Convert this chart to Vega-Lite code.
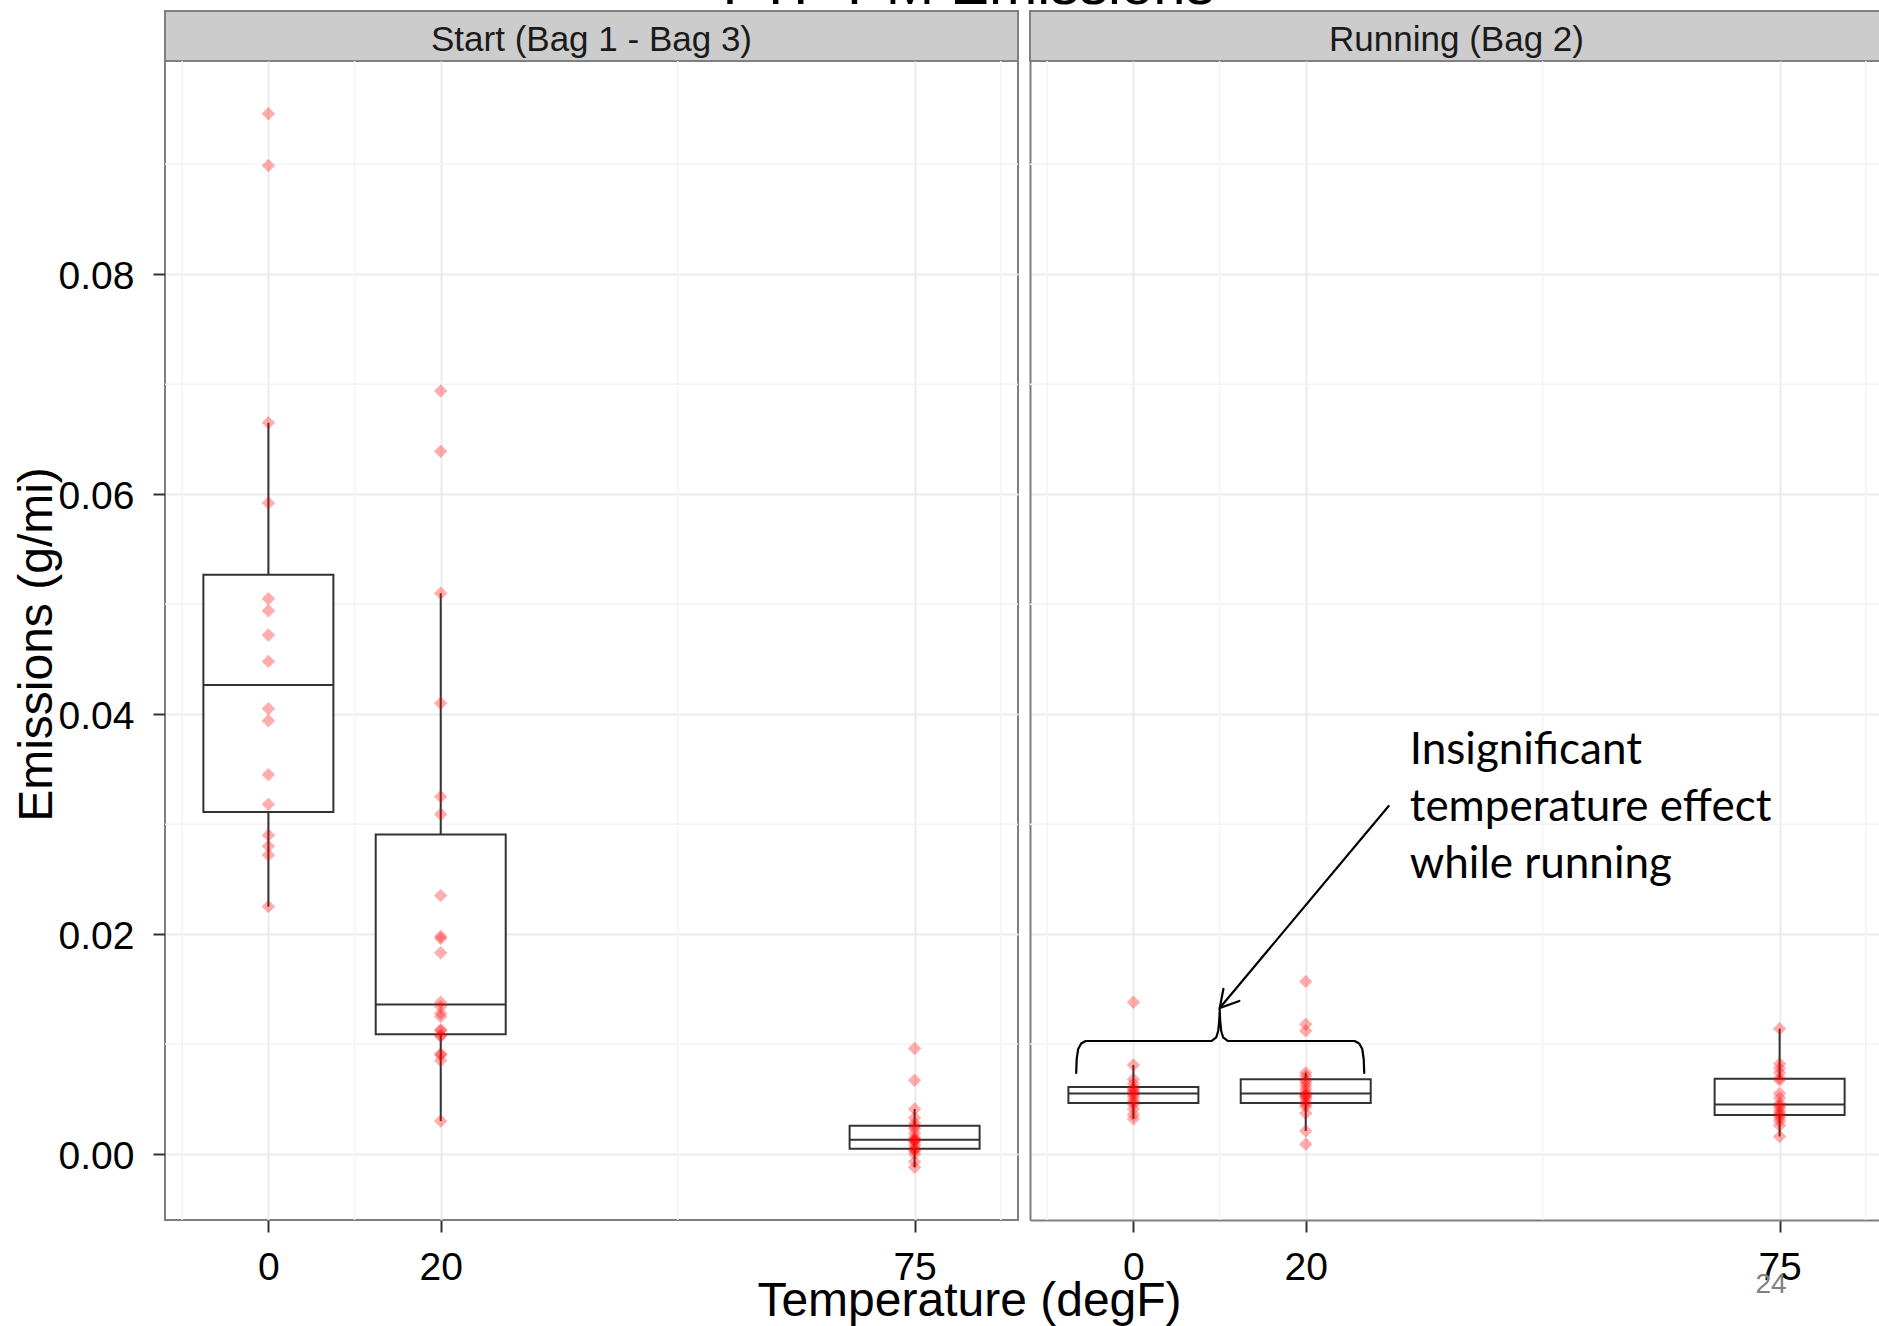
{
  "$schema": "https://vega.github.io/schema/vega-lite/v6.json",
  "background": "white",
  "padding": {"left": 12, "top": -42, "right": 0, "bottom": 0},
  "title": {"text": "FTP PM Emissions", "fontSize": 58, "fontWeight": "normal", "font": "Liberation Sans", "color": "#000000", "baseline": "alphabetic", "offset": -52, "anchor": "middle", "frame": "bounds", "dx": 22},
  "datasets": {
    "pm": [
      {"phase": "Start", "T": 0, "E": 0.0946}, {"phase": "Start", "T": 0, "E": 0.0899}, {"phase": "Start", "T": 0, "E": 0.0665}, {"phase": "Start", "T": 0, "E": 0.0592},
      {"phase": "Start", "T": 0, "E": 0.0505}, {"phase": "Start", "T": 0, "E": 0.0494}, {"phase": "Start", "T": 0, "E": 0.0472}, {"phase": "Start", "T": 0, "E": 0.0448},
      {"phase": "Start", "T": 0, "E": 0.0405}, {"phase": "Start", "T": 0, "E": 0.0394}, {"phase": "Start", "T": 0, "E": 0.0345}, {"phase": "Start", "T": 0, "E": 0.0318},
      {"phase": "Start", "T": 0, "E": 0.0290}, {"phase": "Start", "T": 0, "E": 0.0280}, {"phase": "Start", "T": 0, "E": 0.0272}, {"phase": "Start", "T": 0, "E": 0.0225},
      {"phase": "Start", "T": 20, "E": 0.0694}, {"phase": "Start", "T": 20, "E": 0.0639}, {"phase": "Start", "T": 20, "E": 0.0510}, {"phase": "Start", "T": 20, "E": 0.0410},
      {"phase": "Start", "T": 20, "E": 0.0325}, {"phase": "Start", "T": 20, "E": 0.0309}, {"phase": "Start", "T": 20, "E": 0.0235}, {"phase": "Start", "T": 20, "E": 0.0198},
      {"phase": "Start", "T": 20, "E": 0.0196}, {"phase": "Start", "T": 20, "E": 0.0183}, {"phase": "Start", "T": 20, "E": 0.0138}, {"phase": "Start", "T": 20, "E": 0.0134},
      {"phase": "Start", "T": 20, "E": 0.0128}, {"phase": "Start", "T": 20, "E": 0.0125}, {"phase": "Start", "T": 20, "E": 0.0113}, {"phase": "Start", "T": 20, "E": 0.0112},
      {"phase": "Start", "T": 20, "E": 0.0108}, {"phase": "Start", "T": 20, "E": 0.0107}, {"phase": "Start", "T": 20, "E": 0.0091}, {"phase": "Start", "T": 20, "E": 0.0090},
      {"phase": "Start", "T": 20, "E": 0.0085}, {"phase": "Start", "T": 20, "E": 0.0030},
      {"phase": "Start", "T": 75, "E": 0.0096}, {"phase": "Start", "T": 75, "E": 0.0067}, {"phase": "Start", "T": 75, "E": 0.0041}, {"phase": "Start", "T": 75, "E": 0.0033},
      {"phase": "Start", "T": 75, "E": 0.0028}, {"phase": "Start", "T": 75, "E": 0.0025}, {"phase": "Start", "T": 75, "E": 0.0023}, {"phase": "Start", "T": 75, "E": 0.0019},
      {"phase": "Start", "T": 75, "E": 0.0015}, {"phase": "Start", "T": 75, "E": 0.0013}, {"phase": "Start", "T": 75, "E": 0.0013}, {"phase": "Start", "T": 75, "E": 0.0012},
      {"phase": "Start", "T": 75, "E": 0.0011}, {"phase": "Start", "T": 75, "E": 0.0008}, {"phase": "Start", "T": 75, "E": 0.0005}, {"phase": "Start", "T": 75, "E": 0.0004},
      {"phase": "Start", "T": 75, "E": 0.0003}, {"phase": "Start", "T": 75, "E": 0.0000}, {"phase": "Start", "T": 75, "E": -0.0007}, {"phase": "Start", "T": 75, "E": -0.0012},
      {"phase": "Running", "T": 0, "E": 0.0138}, {"phase": "Running", "T": 0, "E": 0.0081}, {"phase": "Running", "T": 0, "E": 0.0068}, {"phase": "Running", "T": 0, "E": 0.0064},
      {"phase": "Running", "T": 0, "E": 0.0060}, {"phase": "Running", "T": 0, "E": 0.0059}, {"phase": "Running", "T": 0, "E": 0.0057}, {"phase": "Running", "T": 0, "E": 0.0056},
      {"phase": "Running", "T": 0, "E": 0.0054}, {"phase": "Running", "T": 0, "E": 0.0052}, {"phase": "Running", "T": 0, "E": 0.0049}, {"phase": "Running", "T": 0, "E": 0.0047},
      {"phase": "Running", "T": 0, "E": 0.0045}, {"phase": "Running", "T": 0, "E": 0.0041}, {"phase": "Running", "T": 0, "E": 0.0036}, {"phase": "Running", "T": 0, "E": 0.0032},
      {"phase": "Running", "T": 20, "E": 0.0157}, {"phase": "Running", "T": 20, "E": 0.0118}, {"phase": "Running", "T": 20, "E": 0.0112}, {"phase": "Running", "T": 20, "E": 0.0074},
      {"phase": "Running", "T": 20, "E": 0.0071}, {"phase": "Running", "T": 20, "E": 0.0067}, {"phase": "Running", "T": 20, "E": 0.0065}, {"phase": "Running", "T": 20, "E": 0.0062},
      {"phase": "Running", "T": 20, "E": 0.0059}, {"phase": "Running", "T": 20, "E": 0.0056}, {"phase": "Running", "T": 20, "E": 0.0054}, {"phase": "Running", "T": 20, "E": 0.0053},
      {"phase": "Running", "T": 20, "E": 0.0052}, {"phase": "Running", "T": 20, "E": 0.0050}, {"phase": "Running", "T": 20, "E": 0.0047}, {"phase": "Running", "T": 20, "E": 0.0045},
      {"phase": "Running", "T": 20, "E": 0.0043}, {"phase": "Running", "T": 20, "E": 0.0037}, {"phase": "Running", "T": 20, "E": 0.0021}, {"phase": "Running", "T": 20, "E": 0.0009},
      {"phase": "Running", "T": 75, "E": 0.0114}, {"phase": "Running", "T": 75, "E": 0.0082}, {"phase": "Running", "T": 75, "E": 0.0078}, {"phase": "Running", "T": 75, "E": 0.0074},
      {"phase": "Running", "T": 75, "E": 0.0069}, {"phase": "Running", "T": 75, "E": 0.0067}, {"phase": "Running", "T": 75, "E": 0.0055}, {"phase": "Running", "T": 75, "E": 0.0051},
      {"phase": "Running", "T": 75, "E": 0.0046}, {"phase": "Running", "T": 75, "E": 0.0044}, {"phase": "Running", "T": 75, "E": 0.0042}, {"phase": "Running", "T": 75, "E": 0.0039},
      {"phase": "Running", "T": 75, "E": 0.0037}, {"phase": "Running", "T": 75, "E": 0.0035}, {"phase": "Running", "T": 75, "E": 0.0033}, {"phase": "Running", "T": 75, "E": 0.0030},
      {"phase": "Running", "T": 75, "E": 0.0026}, {"phase": "Running", "T": 75, "E": 0.0016}
    ],
    "minorX": [{"T": -10}, {"T": 10}, {"T": 47.5}, {"T": 85}],
    "minorY": [{"E": 0.01}, {"E": 0.03}, {"E": 0.05}, {"E": 0.07}, {"E": 0.09}],
    "brace": [
      {"i": 1, "T": -6.64, "E": 0.00737}, {"i": 2, "T": -6.58, "E": 0.00864}, {"i": 3, "T": -6.41, "E": 0.00955},
      {"i": 4, "T": -6.06, "E": 0.01005}, {"i": 5, "T": -5.54, "E": 0.01028}, {"i": 6, "T": 9.09, "E": 0.01028},
      {"i": 7, "T": 9.61, "E": 0.0106}, {"i": 8, "T": 9.84, "E": 0.01119}, {"i": 9, "T": 9.96, "E": 0.0121},
      {"i": 10, "T": 10.02, "E": 0.0131}, {"i": 11, "T": 10.07, "E": 0.0121}, {"i": 12, "T": 10.19, "E": 0.01119},
      {"i": 13, "T": 10.42, "E": 0.0106}, {"i": 14, "T": 10.94, "E": 0.01028}, {"i": 15, "T": 25.68, "E": 0.01028},
      {"i": 16, "T": 26.21, "E": 0.01005}, {"i": 17, "T": 26.56, "E": 0.00955}, {"i": 18, "T": 26.73, "E": 0.00864},
      {"i": 19, "T": 26.79, "E": 0.00737}
    ],
    "arrow": [
      {"part": "shaft", "i": 1, "T": 29.63, "E": 0.03165}, {"part": "shaft", "i": 2, "T": 10.02, "E": 0.01328},
      {"part": "head", "i": 1, "T": 10.45, "E": 0.01503}, {"part": "head", "i": 2, "T": 10.02, "E": 0.01328}, {"part": "head", "i": 3, "T": 12.30, "E": 0.01392}
    ],
    "note": [{"T": 32.07, "E": 0.0355, "note": "Insignificant\ntemperature effect\nwhile running"}]
  },
  "concat": [
    {
      "width": 853, "height": 50,
      "view": {"fill": "#CCCCCC", "stroke": "#7F7F7F", "strokeWidth": 2},
      "data": {"values": [{"label": "Start (Bag 1 - Bag 3)"}]},
      "mark": {"type": "text", "fontSize": 35, "color": "#1A1A1A", "baseline": "middle", "dy": 4, "font": "Liberation Sans"},
      "encoding": {"text": {"field": "label"}}
    },
    {
      "width": 850, "height": 50,
      "view": {"fill": "#CCCCCC", "stroke": "#7F7F7F", "strokeWidth": 2},
      "data": {"values": [{"label": "Running (Bag 2)"}]},
      "mark": {"type": "text", "fontSize": 35, "color": "#1A1A1A", "baseline": "middle", "dy": 4, "dx": 1.5, "font": "Liberation Sans"},
      "encoding": {"text": {"field": "label"}}
    },
    {
      "width": 853, "height": 1159,
      "view": {"stroke": "#7F7F7F", "strokeWidth": 2},
      "layer": [
        {"data": {"name": "minorX"}, "mark": {"type": "rule", "color": "#F4F4F4", "strokeWidth": 1.5},
         "encoding": {"x": {"field": "T", "type": "quantitative", "scale": {"domain": [-12, 87], "nice": false, "zero": false, "padding": 0}}}},
        {"data": {"name": "minorY"}, "mark": {"type": "rule", "color": "#F4F4F4", "strokeWidth": 1.5},
         "encoding": {"y": {"field": "E", "type": "quantitative", "scale": {"domain": [-0.006, 0.0994], "nice": false, "zero": false, "padding": 0}}}},
        {"data": {"name": "pm"}, "transform": [{"filter": "datum.phase === 'Start'"}],
         "mark": {"type": "boxplot", "orient": "vertical", "size": 130, "extent": 1.5, "outliers": false,
                  "box": {"fill": "white", "stroke": "#333333", "strokeWidth": 2},
                  "median": {"color": "#333333", "thickness": 2, "opacity": 1},
                  "rule": {"color": "#333333", "strokeWidth": 2}},
         "encoding": {
           "x": {"field": "T", "type": "quantitative", "scale": {"domain": [-12, 87], "nice": false, "zero": false, "padding": 0},
                 "axis": {"values": [0, 20, 75], "title": "Temperature (degF)", "titleX": 804, "titleY": 95, "titleAlign": "center", "titleBaseline": "alphabetic", "labelBaseline": "alphabetic", "labelPadding": 47}},
           "y": {"field": "E", "type": "quantitative", "scale": {"domain": [-0.006, 0.0994], "nice": false, "zero": false, "padding": 0},
                 "axis": {"values": [0, 0.02, 0.04, 0.06, 0.08], "format": ".2f", "title": "Emissions (g/mi)", "titleX": -114, "titleY": 583, "titleAngle": 270, "titleAlign": "center", "titleBaseline": "alphabetic", "labelPadding": 19, "labelOffset": 2}}
         }},
        {"data": {"name": "pm"}, "transform": [{"filter": "datum.phase === 'Start'"}],
         "mark": {"type": "point", "shape": "diamond", "filled": true, "size": 180, "color": "#FF0000", "opacity": 0.32, "strokeWidth": 0},
         "encoding": {"x": {"field": "T", "type": "quantitative"}, "y": {"field": "E", "type": "quantitative"}}}
      ]
    },
    {
      "width": 850, "height": 1159,
      "view": {"stroke": null},
      "layer": [
        {"data": {"name": "minorX"}, "mark": {"type": "rule", "color": "#F4F4F4", "strokeWidth": 1.5},
         "encoding": {"x": {"field": "T", "type": "quantitative", "scale": {"domain": [-12, 86.65], "nice": false, "zero": false, "padding": 0}}}},
        {"data": {"name": "minorY"}, "mark": {"type": "rule", "color": "#F4F4F4", "strokeWidth": 1.5},
         "encoding": {"y": {"field": "E", "type": "quantitative", "scale": {"domain": [-0.006, 0.0994], "nice": false, "zero": false, "padding": 0}}}},
        {"data": {"name": "pm"}, "transform": [{"filter": "datum.phase === 'Running'"}],
         "mark": {"type": "boxplot", "orient": "vertical", "size": 130, "extent": 1.5, "outliers": false,
                  "box": {"fill": "white", "stroke": "#333333", "strokeWidth": 2},
                  "median": {"color": "#333333", "thickness": 2, "opacity": 1},
                  "rule": {"color": "#333333", "strokeWidth": 2}},
         "encoding": {
           "x": {"field": "T", "type": "quantitative", "scale": {"domain": [-12, 86.65], "nice": false, "zero": false, "padding": 0},
                 "axis": {"values": [0, 20, 75], "title": "24", "titleX": 740.6, "titleY": 72.7, "titleAlign": "center", "titleBaseline": "alphabetic", "titleFontSize": 28, "titleColor": "#808080", "labelBaseline": "alphabetic", "labelPadding": 47, "domain": true, "domainColor": "#7F7F7F", "domainWidth": 2}},
           "y": {"field": "E", "type": "quantitative", "scale": {"domain": [-0.006, 0.0994], "nice": false, "zero": false, "padding": 0},
                 "axis": {"values": [0, 0.02, 0.04, 0.06, 0.08], "labels": false, "ticks": false, "title": null, "domain": true, "domainColor": "#7F7F7F", "domainWidth": 2}}
         }},
        {"data": {"name": "pm"}, "transform": [{"filter": "datum.phase === 'Running'"}],
         "mark": {"type": "point", "shape": "diamond", "filled": true, "size": 180, "color": "#FF0000", "opacity": 0.32, "strokeWidth": 0},
         "encoding": {"x": {"field": "T", "type": "quantitative"}, "y": {"field": "E", "type": "quantitative"}}},
        {"data": {"name": "brace"}, "mark": {"type": "line", "color": "#000000", "strokeWidth": 2.2, "strokeCap": "round", "strokeJoin": "round"},
         "encoding": {"x": {"field": "T", "type": "quantitative"}, "y": {"field": "E", "type": "quantitative"}, "order": {"field": "i", "type": "quantitative"}}},
        {"data": {"name": "arrow"}, "mark": {"type": "line", "color": "#000000", "strokeWidth": 2.2, "strokeCap": "round", "strokeJoin": "miter"},
         "encoding": {"x": {"field": "T", "type": "quantitative"}, "y": {"field": "E", "type": "quantitative"}, "detail": {"field": "part"}, "order": {"field": "i", "type": "quantitative"}}},
        {"data": {"name": "note"}, "mark": {"type": "text", "align": "left", "baseline": "alphabetic", "font": "Lato", "fontSize": 44, "lineHeight": 57, "lineBreak": "\n", "color": "#000000"},
         "encoding": {"x": {"field": "T", "type": "quantitative"}, "y": {"field": "E", "type": "quantitative"}, "text": {"field": "note"}}}
      ]
    }
  ],
  "columns": 2,
  "spacing": {"row": 0, "column": 12},
  "bounds": "flush",
  "config": {
    "font": "Liberation Sans",
    "view": {"stroke": null},
    "axis": {"gridColor": "#EBEBEB", "gridWidth": 2, "tickColor": "#333333", "tickWidth": 2, "tickSize": 12, "labelColor": "#000000", "labelFontSize": 39, "labelFont": "Liberation Sans", "titleFont": "Liberation Sans", "titleFontSize": 48, "titleFontWeight": "normal", "titleColor": "#000000", "domain": false, "labelFlush": false, "labelOverlap": false}
  }
}
